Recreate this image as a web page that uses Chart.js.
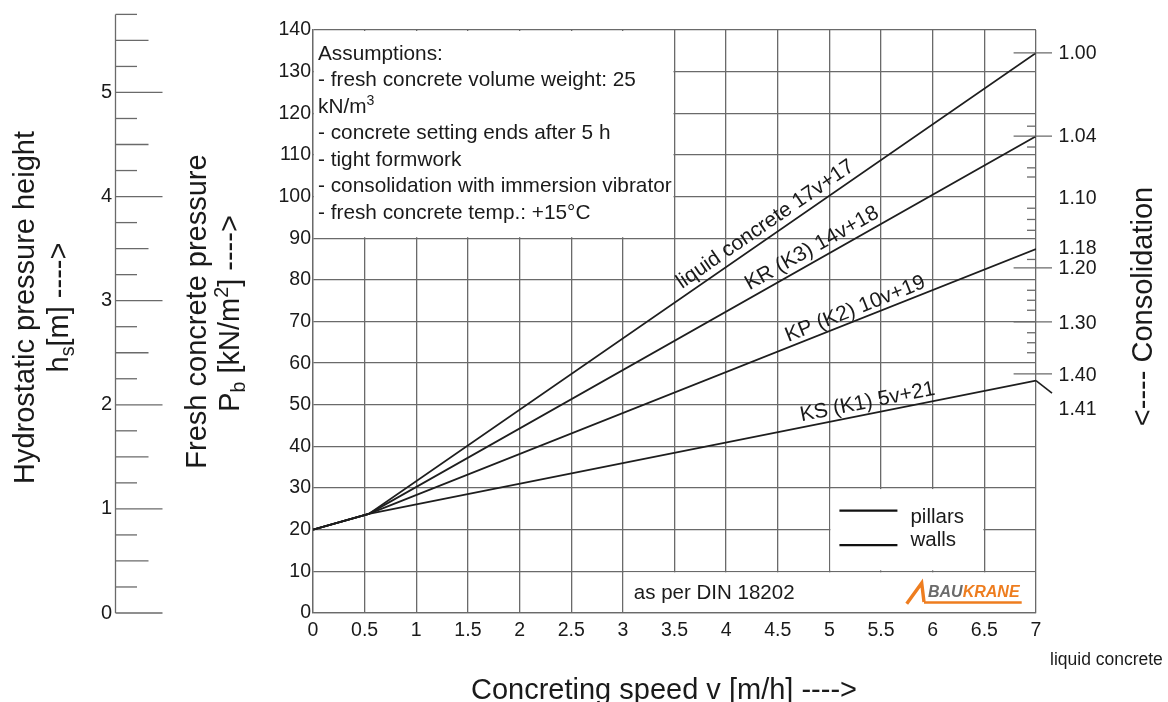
<!DOCTYPE html>
<html>
<head>
<meta charset="utf-8">
<script src="https://cdn.jsdelivr.net/npm/chart.js@4.4.1/dist/chart.umd.min.js"></script>
<style>
  html, body { margin: 0; padding: 0; background: #fff; }
</style>
</head>
<body>
<canvas id="myChart" width="1168" height="702"></canvas>
<script>
// datos (v en m/h, Pb en kN/m2)
const speeds = [0, 0.54, 7];
const liquidConcrete = [20, 23.8, 134.5];
const krK3 = [20, 23.8, 114.5];
const kpK2 = [20, 23.8, 87.4];
const ksK1 = [20, 23.8, 55.8];
const seriesLabels = ['liquid concrete 17v+17', 'KR (K3) 14v+18', 'KP (K2) 10v+19', 'KS (K1) 5v+21'];

// escala de altura hidrostatica (1 m = 25 kN/m2)
const hsLabels = [0, 1, 2, 3, 4, 5];
const hsTop = 5.75;

// escala de consolidacion (posicion en kN/m2)
const consolidationLabels = ['1.00', '1.04', '1.10', '1.18', '1.20', '1.30', '1.40', '1.41'];
const consolidationAt = [134.3, 114.3, 99.4, 87.6, 82.6, 69.5, 57.1, 48.8];
const consolidationMajor = [134.5, 114.5, 82.9, 69.9, 57.4];
const consolidationMinor = [116.9, 111.9, 106.9, 104.7, 97.2, 94.5, 91.9, 84.9, 77.5, 75.1, 72.7, 67.3, 64.9, 62.5];

const assumptions = [
    [['Assumptions:']],
    [['- fresh concrete volume weight: 25']],
    [['kN/m'], ['3', 'sup']],
    [['- concrete setting ends after 5 h']],
    [['- tight formwork']],
    [['- consolidation with immersion vibrator']],
    [['- fresh concrete temp.: +15°C']]
];

const family = '"Liberation Sans", Arial, Helvetica, sans-serif';
const ink = '#1a1a1a';
const gridColor = '#6a6a6a';

function richText(ctx, parts, x, y, size, align) {
    const fontFor = p => (p[1] ? size * 0.68 : size) + 'px ' + family;
    let w = 0;
    parts.forEach(p => { ctx.font = fontFor(p); w += ctx.measureText(p[0]).width; });
    let cx = align === 'center' ? x - w / 2 : x;
    ctx.textAlign = 'left';
    parts.forEach(p => {
        ctx.font = fontFor(p);
        const dy = p[1] === 'sub' ? size * 0.22 : p[1] === 'sup' ? -size * 0.38 : 0;
        ctx.fillText(p[0], cx, y + dy);
        cx += ctx.measureText(p[0]).width;
    });
}

function vertical(ctx, parts, x, yc, size) {
    ctx.save();
    ctx.translate(x, yc);
    ctx.rotate(-Math.PI / 2);
    richText(ctx, parts, 0, 0, size, 'center');
    ctx.restore();
}

// cajas blancas que tapan la reticula
const whiteBoxes = [[0, 3.5, 90, 140], [5, 6.5, 10, 30], [3, 7, 0, 10]];
// donde va cada etiqueta sobre su linea: v, separacion px
const labelPlace = [[3.61, 7], [4.26, 7], [4.62, 5], [4.74, 6]];

const decor = {
    id: 'decor',
    beforeDatasetsDraw(chart) {
        const { ctx, scales: { x, y } } = chart;
        ctx.save();
        ctx.fillStyle = '#fff';
        whiteBoxes.forEach(b => {
            const x1 = x.getPixelForValue(b[0]), x2 = x.getPixelForValue(b[1]);
            const y1 = y.getPixelForValue(b[3]), y2 = y.getPixelForValue(b[2]);
            ctx.fillRect(x1 + 1, y1 + 1, x2 - x1 - 2, y2 - y1 - 2);
        });
        ctx.restore();
    },
    afterDatasetsDraw(chart) {
        const { ctx, chartArea: a, scales: { x, y } } = chart;
        const series = [liquidConcrete, krK3, kpK2, ksK1];
        ctx.save();
        ctx.fillStyle = ink;
        ctx.textBaseline = 'alphabetic';

        // Supuestos
        assumptions.forEach((parts, i) => {
            richText(ctx, parts, a.left + 5, a.top + 29.8 + i * 26.5, 20.8, 'left');
        });

        // etiquetas de las lineas
        ctx.font = '21px ' + family;
        series.forEach((vals, i) => {
            const x0 = x.getPixelForValue(speeds[1]), y0 = y.getPixelForValue(vals[1]);
            const x1 = x.getPixelForValue(speeds[2]), y1 = y.getPixelForValue(vals[2]);
            const ang = Math.atan2(y1 - y0, x1 - x0);
            const s = labelPlace[i][0];
            const v = vals[1] + (vals[2] - vals[1]) * (s - speeds[1]) / (speeds[2] - speeds[1]);
            ctx.save();
            ctx.translate(x.getPixelForValue(s), y.getPixelForValue(v));
            ctx.rotate(ang);
            ctx.textAlign = 'left';
            ctx.fillText(seriesLabels[i], 0, -labelPlace[i][1]);
            ctx.restore();
        });

        // leyenda
        const lx = x.getPixelForValue(5);
        const y30 = y.getPixelForValue(30);
        ctx.strokeStyle = '#111';
        ctx.lineWidth = 2.2;
        [[22.5, 'pillars', 35], [57, 'walls', 57.7]].forEach(r => {
            ctx.beginPath();
            ctx.moveTo(lx + 10, y30 + r[0]);
            ctx.lineTo(lx + 68, y30 + r[0]);
            ctx.stroke();
            ctx.font = '20.5px ' + family;
            ctx.textAlign = 'left';
            ctx.fillText(r[1], lx + 81, y30 + r[2]);
        });

        // DIN
        const y0p = y.getPixelForValue(0);
        ctx.font = '20.5px ' + family;
        ctx.fillText('as per DIN 18202', x.getPixelForValue(3) + 11, y0p - 14);

        // logo
        const x7 = x.getPixelForValue(7);
        ctx.strokeStyle = '#ee7d1f';
        ctx.lineWidth = 3.4;
        ctx.lineJoin = 'miter';
        ctx.beginPath();
        ctx.moveTo(x7 - 129.3, y0p - 9.3);
        ctx.lineTo(x7 - 114.3, y0p - 30);
        ctx.lineTo(x7 - 112, y0p - 11);
        ctx.stroke();
        ctx.lineWidth = 2.4;
        ctx.beginPath();
        ctx.moveTo(x7 - 112, y0p - 10.5);
        ctx.lineTo(x7 - 14.3, y0p - 10.5);
        ctx.stroke();
        ctx.font = 'italic bold 16px ' + family;
        ctx.fillStyle = '#6b6b6b';
        ctx.fillText('BAU', x7 - 108, y0p - 16);
        const wb = ctx.measureText('BAU').width;
        ctx.fillStyle = '#ee7d1f';
        ctx.fillText('KRANE', x7 - 108 + wb, y0p - 16);
        ctx.fillStyle = ink;

        // escala de consolidacion
        ctx.strokeStyle = gridColor;
        ctx.lineWidth = 1.3;
        consolidationMajor.forEach(v => {
            const py = y.getPixelForValue(v);
            ctx.beginPath(); ctx.moveTo(x7 - 22.4, py); ctx.lineTo(x7 + 16, py); ctx.stroke();
        });
        consolidationMinor.forEach(v => {
            const py = y.getPixelForValue(v);
            ctx.beginPath(); ctx.moveTo(x7 - 9, py); ctx.lineTo(x7, py); ctx.stroke();
        });
        ctx.strokeStyle = '#1e1e1e';
        ctx.lineWidth = 1.6;
        const ksEnd = y.getPixelForValue(ksK1[2]);
        ctx.beginPath(); ctx.moveTo(x7, ksEnd); ctx.lineTo(x7 + 16, ksEnd + 12.6); ctx.stroke();
        ctx.font = '19.5px ' + family;
        ctx.textBaseline = 'middle';
        ctx.textAlign = 'left';
        consolidationLabels.forEach((t, i) => {
            ctx.fillText(t, x7 + 22.6, y.getPixelForValue(consolidationAt[i]));
        });

        // regla de altura hidrostatica
        const rx = 115.5;
        ctx.strokeStyle = gridColor;
        ctx.lineWidth = 1.3;
        ctx.beginPath();
        ctx.moveTo(rx, y.getPixelForValue(0));
        ctx.lineTo(rx, y.getPixelForValue(hsTop * 25));
        ctx.stroke();
        for (let k = 0; k <= hsTop * 4; k++) {
            const py = y.getPixelForValue(k * 25 / 4);
            const len = k % 4 === 0 ? 47 : k % 2 === 0 ? 33 : 21.5;
            ctx.beginPath(); ctx.moveTo(rx, py); ctx.lineTo(rx + len, py); ctx.stroke();
        }
        ctx.font = '20px ' + family;
        ctx.textAlign = 'right';
        hsLabels.forEach(v => ctx.fillText(String(v), 112, y.getPixelForValue(v * 25)));

        // titulos de ejes
        ctx.textBaseline = 'alphabetic';
        const yc = (a.top + a.bottom) / 2;
        vertical(ctx, [['Hydrostatic pressure height']], 34, yc - 14, 29);
        vertical(ctx, [['h'], ['s', 'sub'], ['[m] ---->']], 68, yc - 14, 29);
        vertical(ctx, [['Fresh concrete pressure']], 206, yc - 10, 29);
        vertical(ctx, [['P'], ['b', 'sub'], [' [kN/m'], ['2', 'sup'], ['] ---->']], 239, yc - 8, 29);
        vertical(ctx, [['<---- Consolidation']], 1152, yc - 15, 29);
        richText(ctx, [['Concreting speed v [m/h] ---->']], 664, 699, 29, 'center');

        ctx.font = '17.5px ' + family;
        ctx.textAlign = 'left';
        ctx.fillText('liquid concrete', 1050, 665);
        ctx.restore();
    }
};

const ctx = document.getElementById('myChart');
const mk = (label, vals) => ({
    label: label,
    data: speeds.map((s, i) => ({ x: s, y: vals[i] })),
    borderColor: '#1e1e1e',
    borderWidth: 1.8,
    pointRadius: 0,
    tension: 0,
    fill: false
});

new Chart(ctx, {
    type: 'line',
    data: {
        datasets: [
            mk(seriesLabels[0], liquidConcrete),
            mk(seriesLabels[1], krK3),
            mk(seriesLabels[2], kpK2),
            mk(seriesLabels[3], ksK1)
        ]
    },
    options: {
        responsive: false,
        animation: false,
        layout: { padding: { left: 250, right: 132, top: 30, bottom: 30 } },
        plugins: { legend: { display: false }, tooltip: { enabled: false } },
        scales: {
            x: {
                type: 'linear', min: 0, max: 7,
                afterFit(s) { s.height = 59; },
                ticks: {
                    stepSize: 0.5, padding: 6, color: ink, font: { family: family, size: 19.5 },
                    maxRotation: 0, autoSkip: false,
                    callback: v => String(Math.round(v * 10) / 10)
                },
                grid: { color: gridColor, lineWidth: 1.3, drawTicks: false },
                border: { color: gridColor, width: 1.3 }
            },
            y: {
                min: 0, max: 140,
                afterFit(s) { s.width = 63; },
                ticks: { stepSize: 10, padding: 2, color: ink, font: { family: family, size: 19.5 } },
                grid: { color: gridColor, lineWidth: 1.3, drawTicks: false },
                border: { color: gridColor, width: 1.3 }
            }
        }
    },
    plugins: [decor]
});
</script>
</body>
</html>
